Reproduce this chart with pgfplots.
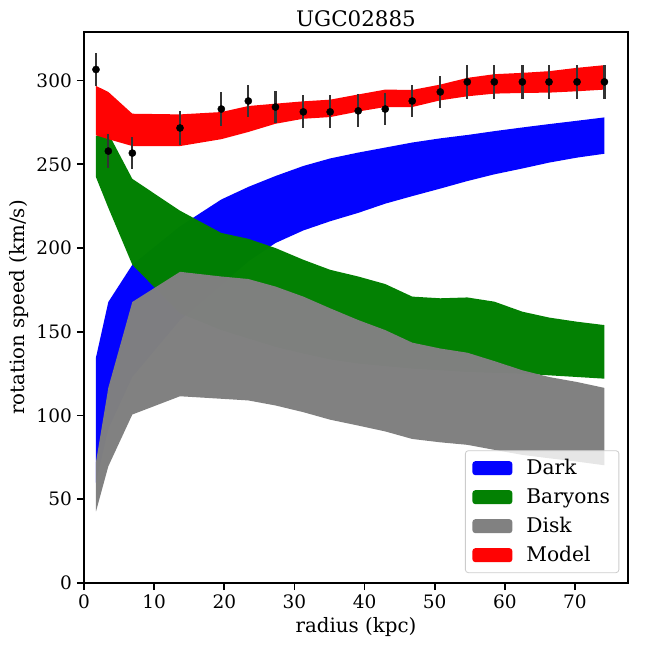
\documentclass[border=0pt]{standalone}
\usepackage{fontspec}
\setmainfont{DejaVu Serif}
\usepackage{pgfplots}
\pgfplotsset{compat=1.18}
\usepackage{pgfplotstable}
\definecolor{mplgreen}{RGB}{0,128,0}
\definecolor{mplgray}{RGB}{128,128,128}
\definecolor{errgray}{RGB}{51,51,51}
\newcommand{\ticktext}[1]{\mbox{\fontsize{18.5}{22}\selectfont #1}}
\pgfplotsset{every tick label/.append style={font=\fontsize{18.5}{22}\selectfont}}

% Each band: upper edge left to right, then lower edge right to left
\pgfplotstableread{
x y
1.71 134.7
3.47 167.8
6.89 190
13.69 213
19.58 229
23.43 236.5
27.3 243
31.27 249
35.1 253.5
39.1 257
42.95 260
46.8 263
50.8 265.5
54.65 267.5
58.5 269.8
62.5 272
66.3 274
70.3 276
74.2 278
74.2 256.3
70.3 254
66.3 251
62.5 247.5
58.5 244
54.65 240
50.8 235.5
46.8 231
42.95 226.5
39.1 221
35.1 216
31.27 210.5
27.3 203
23.43 192
19.58 178
13.69 157
6.89 123
3.47 92
1.71 60
}\dark

\pgfplotstableread{
x y
1.71 267
3.47 268.5
6.89 241.3
13.69 222.3
19.58 209
23.43 205.5
27.3 200
31.27 193
35.1 187
39.1 183
42.95 178.5
46.8 171
50.8 170
54.65 170.5
58.5 168
62.5 162
66.3 158.5
70.3 156
74.2 154
74.2 122
70.3 123
66.3 124
62.5 125
58.5 125.5
54.65 126
50.8 127
46.8 128
42.95 129.5
39.1 131
35.1 133.5
31.27 137
27.3 141
23.43 146
19.58 151
13.69 161
6.89 190
3.47 224
1.71 242.3
}\baryons

\pgfplotstableread{
x y
1.71 72.3
3.47 116.6
6.89 167.8
13.69 185.8
19.58 183
23.43 181.5
27.3 177
31.27 171
35.1 164
39.1 157
42.95 151
46.8 143.5
50.8 140
54.65 137.5
58.5 132.5
62.5 127
66.3 123
70.3 120
74.2 116.5
74.2 70.3
70.3 72.5
66.3 74.5
62.5 76.5
58.5 79.5
54.65 82.5
50.8 84
46.8 86
42.95 90.5
39.1 94
35.1 97.5
31.27 102
27.3 106
23.43 109
19.58 110
13.69 111.5
6.89 100.6
3.47 69.7
1.71 42.7
}\disk

\pgfplotstableread{
x y
1.71 296.8
3.47 293.2
6.89 280.2
13.69 279.8
19.58 281.2
23.43 284.8
27.3 286.2
31.27 287.6
35.1 288.6
39.1 291.7
42.95 294.6
46.8 294.4
50.8 297.6
54.65 301.6
58.5 303.8
62.5 304.6
66.3 305.6
70.3 307.6
74.2 309.2
74.2 294.6
70.3 293.6
66.3 292.8
62.5 292.6
58.5 292.2
54.65 290.6
50.8 288.2
46.8 284.2
42.95 284.2
39.1 281.5
35.1 278.2
31.27 277.2
27.3 274.2
23.43 269.3
19.58 265
13.69 260.9
6.89 260.9
3.47 265
1.71 267.3
}\model

\pgfplotstableread{
x y e
1.71 306.6 9.6
3.47 257.9 10
6.89 256.7 9.7
13.69 271.7 10
19.58 283.0 10.2
23.43 287.8 9.8
27.3 284.2 9.8
31.27 281.3 9.8
35.1 281.3 9.8
39.1 281.9 9.8
42.95 283.0 9.8
46.8 287.8 9.8
50.8 293.2 9.8
54.65 299.2 10
58.5 299.2 10
62.5 299.2 10
66.3 299.2 10
70.3 299.2 10
74.2 299.2 10
}\pts

\begin{document}
\begin{tikzpicture}
\begin{axis}[
  at={(0pt,0pt)}, anchor=south west,
  scale only axis, width=544pt, height=551pt,
  xmin=0, xmax=77.56, ymin=0, ymax=329,
  xtick={0,10,20,30,40,50,60,70},
  ytick={0,50,100,150,200,250,300},
  scaled ticks=false,
  xticklabel={\ticktext{\pgfmathprintnumber[assume math mode=true]{\tick}}},
  yticklabel={\ticktext{\pgfmathprintnumber[assume math mode=true]{\tick}}},
  xtick pos=left, ytick pos=left,
  tick align=outside, major tick length=7pt,
  major tick style={line width=1.8pt, black},
  axis line style={line width=2pt},
  xticklabel style={inner sep=0pt, anchor=north, yshift=-5pt},
  yticklabel style={inner sep=0pt, anchor=east, xshift=-5pt},
  title={UGC02885},
  every axis title/.style={at={(axis description cs:0.5,1)}, anchor=base, yshift=5.5pt, font=\fontsize{21.4}{25}\selectfont, inner sep=0pt},
  xlabel={radius (kpc)},
  ylabel={rotation speed (km/s)},
  every axis x label/.style={at={(axis description cs:0.5,0)}, anchor=base, yshift=-49.7pt, font=\fontsize{19.8}{24}\selectfont, inner sep=0pt},
  every axis y label/.style={at={(axis description cs:-0.1085,0.5)}, anchor=base, rotate=90, font=\fontsize{19.8}{24}\selectfont, inner sep=0pt},
  legend image code/.code={\fill[#1] (0pt,-7pt) rectangle (40pt,7pt);},
  legend cell align=left,
  legend style={at={(rel axis cs:0.984,0.018)}, anchor=south east,
    draw=black!20, line width=0.8pt, rounded corners=3pt, fill=white, fill opacity=0.8, text opacity=1,
    font=\fontsize{20.2}{24}\selectfont, inner xsep=7pt, inner ysep=6.5pt,
    row sep=7pt, column sep=12pt,
    nodes={inner sep=2pt, text depth=3pt, text height=15pt}},
]
\addplot[fill=blue, fill opacity=0.99, draw=none] table[x=x, y=y] {\dark} -- cycle;
\addlegendentry{Dark}
\addplot[fill=mplgreen, fill opacity=0.99, draw=none] table[x=x, y=y] {\baryons} -- cycle;
\addlegendentry{Baryons}
\addplot[fill=mplgray, fill opacity=0.99, draw=none] table[x=x, y=y] {\disk} -- cycle;
\addlegendentry{Disk}
\addplot[fill=red, fill opacity=0.99, draw=none] table[x=x, y=y] {\model} -- cycle;
\addlegendentry{Model}

\addplot[only marks, mark=*, mark size=3.6pt, black, forget plot,
  error bars/.cd, y dir=both, y explicit,
  error bar style={line width=2.3pt, color=errgray}, error mark=none]
  table[x=x, y=y, y error=e] {\pts};
\end{axis}
\pgfresetboundingbox
\path[use as bounding box] (-84pt,-65pt) rectangle (564pt,583pt);
\end{tikzpicture}
\end{document}
